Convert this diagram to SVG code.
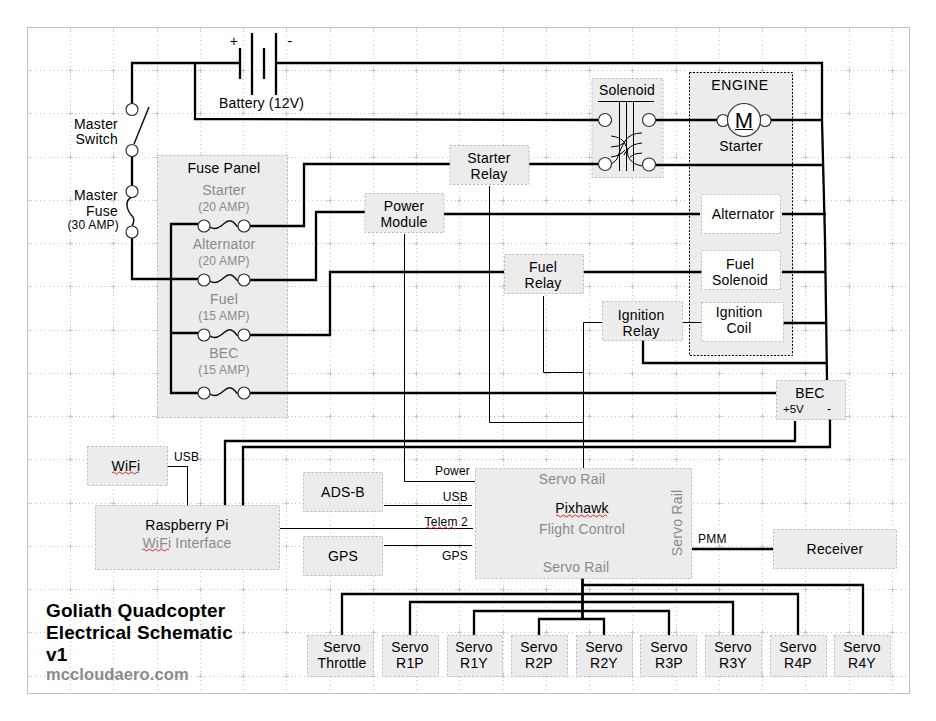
<svg xmlns="http://www.w3.org/2000/svg" width="936" height="721" viewBox="0 0 936 721">
<style>
text{font-family:"Liberation Sans",Arial,sans-serif;font-size:14px;fill:#000;text-anchor:middle;letter-spacing:.2px}
.g{fill:#8a8a8a}
.s{font-size:12px}
.e{text-anchor:end}
.l{text-anchor:start}
.t{font-size:19px;font-weight:bold;text-anchor:start;letter-spacing:.1px}
.box{fill:#ececec;stroke:#b8b8b8;stroke-width:1;stroke-dasharray:2 2}
.wbox{fill:#fff;stroke:#b8b8b8;stroke-width:1;stroke-dasharray:2 2}
.w{fill:none;stroke:#000;stroke-width:2.300;stroke-linejoin:miter}
.h{fill:none;stroke:#000;stroke-width:2.800}
.n{fill:none;stroke:#000;stroke-width:1}
.c{fill:#fff;stroke:#333;stroke-width:1.200}
.sq{fill:none;stroke:#d81010;stroke-width:.9}
.gd{fill:none;stroke:#c8c8c8;stroke-width:1;stroke-dasharray:1 3.325;shape-rendering:crispEdges}
.gt{fill:none;stroke:#c8c8c8;stroke-width:1;stroke-dasharray:5 38.25;stroke-dashoffset:2.500;shape-rendering:crispEdges}
</style>
<defs>
<g id="fuse"><path d="M6 1C10 4 13 3 17 0S23-6 27-5 31-1 34 1" fill="none" stroke="#111" stroke-width="1.500"/><circle class="c" cx="0" cy="0" r="6"/><circle class="c" cx="40" cy="0" r="6"/></g>
</defs>
<rect width="936" height="721" fill="#fff"/>
<g id="grid">
<path id="gv" class="gd" d="M70.500 27V693M113.500 27V693M157.500 27V693M200.500 27V693M243.500 27V693M286.500 27V693M330.500 27V693M373.500 27V693M416.500 27V693M459.500 27V693M503.500 27V693M546.500 27V693M589.500 27V693M632.500 27V693M676.500 27V693M719.500 27V693M762.500 27V693M805.500 27V693M849.500 27V693M892.500 27V693"/>
<path id="gh" class="gd" d="M27 70.500H909M27 113.500H909M27 157.500H909M27 200.500H909M27 243.500H909M27 286.500H909M27 330.500H909M27 373.500H909M27 416.500H909M27 459.500H909M27 503.500H909M27 546.500H909M27 589.500H909M27 632.500H909M27 676.500H909"/>
<path class="gt" d="M70.500 27V693M113.500 27V693M157.500 27V693M200.500 27V693M243.500 27V693M286.500 27V693M330.500 27V693M373.500 27V693M416.500 27V693M459.500 27V693M503.500 27V693M546.500 27V693M589.500 27V693M632.500 27V693M676.500 27V693M719.500 27V693M762.500 27V693M805.500 27V693M849.500 27V693M892.500 27V693"/>
<path class="gt" d="M27 70.500H909M27 113.500H909M27 157.500H909M27 200.500H909M27 243.500H909M27 286.500H909M27 330.500H909M27 373.500H909M27 416.500H909M27 459.500H909M27 503.500H909M27 546.500H909M27 589.500H909M27 632.500H909M27 676.500H909"/>
<rect x="27.500" y="27.500" width="882" height="666" fill="none" stroke="#c0c0c0"/>
</g>
<g id="fuse-panel-bg"><rect class="box" x="157.500" y="155.500" width="130" height="262"/></g>
<g id="solenoid-bg"><rect class="box" x="592" y="78.500" width="71" height="99"/></g>
<g id="engine-bg"><rect x="689.500" y="72.500" width="103" height="283" fill="#ececec" stroke="#000" stroke-dasharray="2 1.500"/></g>
<g id="connectors">
<path class="w" d="M240 63H132V104"/>
<path class="w" d="M277 63H822V120L825 240L827 380"/>
<path class="w" d="M195 63V119L598 120"/>
<path class="w" d="M132 156V186M132 238V279H198"/>
<path class="w" d="M198 224H171V393H198M171 333H198"/>
<path class="w" d="M250 226H304V164H450"/>
<path class="w" d="M250 280H316V212H365"/>
<path class="w" d="M250 335H330V272H504"/>
<path class="w" d="M250 393H776"/>
<path class="w" d="M529 164H598"/>
<path class="w" d="M655 120H717M771 120H823"/>
<path class="w" d="M655 165H823"/>
<path class="w" d="M444 214H700M782 214H826"/>
<path class="w" d="M583 272H703M782 272H826"/>
<path class="w" d="M782 323H826"/>
<path class="w" d="M643 340V363H826"/>
<path class="w" d="M795 421V441H225V507"/>
<path class="w" d="M830 418V447H243V506"/>
<path class="n" d="M489.500 186V422.500H583.500"/>
<path class="n" d="M543.500 296V372.500H583.500"/>
<path class="n" d="M603 322.500H583.500V468"/>
<path class="n" d="M682 322.500H702"/>
<path class="n" d="M404.500 234V481.500H475"/>
<path class="n" d="M167 466.500H187.500V506"/>
<path class="n" d="M384 505.500H472"/>
<path class="n" d="M280 528.500H473"/>
<path class="n" d="M384 545.500H472"/>
<path class="w" d="M692 549H773"/>
<path class="h" d="M582.500 578V619"/>
<path class="w" d="M582 585H863V635"/>
<path class="w" d="M342 635V594H798V635"/>
<path class="w" d="M410 635V602H733V635"/>
<path class="w" d="M474 635V611H669V635"/>
<path class="w" d="M539 635V619H604V635"/>
</g>
<g id="battery">
<path class="w" d="M240 48V79M252 33V95M264 48V79M276 33V95"/>
<text x="234" y="46">+</text><text x="290" y="46">-</text>
<text x="261.500" y="108">Battery (12V)</text>
</g>
<g id="master-switch">
<circle class="c" cx="132" cy="109.500" r="6"/><circle class="c" cx="132" cy="150.500" r="6"/>
<path d="M134 144L149 107" stroke="#111" stroke-width="1.500" fill="none"/>
<text x="118" y="129" class="e">Master</text><text x="118" y="144" class="e">Switch</text>
</g>
<g id="master-fuse">
<path d="M132 197q-6 3-5 9t6 11q2 4-1 9" fill="none" stroke="#111" stroke-width="1.500"/>
<circle class="c" cx="132" cy="191.500" r="6"/><circle class="c" cx="132" cy="232" r="6"/>
<text x="118" y="200" class="e">Master</text><text x="118" y="216" class="e">Fuse</text><text x="119" y="229" class="s e">(30 AMP)</text>
</g>
<g id="fuse-panel">
<text x="224" y="173">Fuse Panel</text>
<text x="224" y="195" class="g">Starter</text><text x="224" y="211" class="g s">(20 AMP)</text>
<use href="#fuse" x="204" y="226"/>
<text x="224" y="249" class="g">Alternator</text><text x="224" y="265" class="g s">(20 AMP)</text>
<use href="#fuse" x="204" y="280"/>
<text x="224" y="304" class="g">Fuel</text><text x="224" y="320" class="g s">(15 AMP)</text>
<use href="#fuse" x="204" y="335"/>
<text x="224" y="358" class="g">BEC</text><text x="224" y="374" class="g s">(15 AMP)</text>
<use href="#fuse" x="204" y="393"/>
</g>
<g id="solenoid">
<text x="627" y="95">Solenoid</text>
<path class="n" d="M598 101.500H654M619.500 101.500V171M626.500 101.500V171M633.500 101.500V171"/>
<path class="n" d="M611 136q9 1 13 6t4 14q3 8 14 10M611 147q8 0 13-4M611 157q9-1 14-7M642 133q-12 0-17 8t-8 18q-2 3-6 5M642 143q-10 1-14 6t-4 6M642 153q-8 0-12 4"/>
<circle class="c" cx="605" cy="120" r="6.500"/><circle class="c" cx="649" cy="120" r="6.500"/><circle class="c" cx="605" cy="164" r="6.500"/><circle class="c" cx="649" cy="164.500" r="6.500"/>
</g>
<g id="engine">
<text x="740" y="90" style="letter-spacing:.6px">ENGINE</text>
<circle class="c" cx="723" cy="120.500" r="6"/><circle class="c" cx="765" cy="120.500" r="6"/>
<circle class="c" cx="744" cy="120" r="16.500"/>
<text x="744" y="127.500" style="font-size:22px;letter-spacing:0">M</text>
<path class="n" d="M735 129.500H753"/>
<text x="741" y="151">Starter</text>
</g>
<g id="starter-relay"><rect class="box" x="450" y="145.500" width="79" height="39"/><text x="489" y="163">Starter</text><text x="489" y="179">Relay</text></g>
<g id="power-module"><rect class="box" x="365" y="193.500" width="79" height="39"/><text x="404" y="211">Power</text><text x="404" y="227">Module</text></g>
<g id="alternator"><rect class="wbox" x="701.500" y="194.500" width="79" height="39"/><text x="743" y="219">Alternator</text></g>
<g id="fuel-solenoid"><rect class="wbox" x="701.500" y="250.500" width="79" height="39"/><text x="740" y="269">Fuel</text><text x="740" y="285">Solenoid</text></g>
<g id="ignition-coil"><rect class="wbox" x="701.500" y="302.500" width="82" height="39"/><text x="739" y="317">Ignition</text><text x="739" y="333">Coil</text></g>
<g id="fuel-relay"><rect class="box" x="504.500" y="254.500" width="79" height="39"/><text x="543" y="272">Fuel</text><text x="543" y="288">Relay</text></g>
<g id="ignition-relay"><rect class="box" x="602.500" y="301.500" width="80" height="39"/><text x="641" y="320">Ignition</text><text x="641" y="336">Relay</text></g>
<g id="bec"><rect class="box" x="776.500" y="380.500" width="69" height="39"/><text x="810" y="398">BEC</text><text x="783" y="413" class="s l" style="font-size:11.500px;letter-spacing:0">+5V</text><text x="829" y="413" class="s">-</text></g>
<g id="wifi"><rect class="box" x="87.500" y="446.500" width="80" height="39"/><text x="126" y="471">WiFi</text><path class="sq" d="M112 473q1.500-2 3 0t3 0t3 0t3 0t3 0t3 0t3 0t3 0t3 0"/><text x="174" y="461" class="s l">USB</text></g>
<g id="raspberry-pi"><rect class="box" x="95.500" y="505.500" width="184" height="64"/><text x="187" y="530">Raspberry Pi</text><text x="187" y="548" class="g">WiFi Interface</text><path class="sq" d="M142 550q1.500-2 3 0t3 0t3 0t3 0t3 0t3 0t3 0t3 0t3 0"/></g>
<g id="ads-b"><rect class="box" x="303.500" y="472.500" width="79" height="39"/><text x="343" y="497">ADS-B</text></g>
<g id="gps"><rect class="box" x="303.500" y="536.500" width="79" height="39"/><text x="343" y="561">GPS</text></g>
<g id="wire-labels">
<text x="470" y="475" class="s e">Power</text><text x="468" y="501" class="s e">USB</text><text x="468" y="526" class="s e">Telem 2</text><path class="sq" d="M426 528q1.500-2 3 0t3 0t3 0t3 0t3 0t3 0t3 0t3 0t3 0t3 0"/><text x="468" y="560" class="s e">GPS</text><text x="698" y="543" class="s l">PMM</text>
</g>
<g id="pixhawk"><rect class="box" x="475.500" y="468.500" width="216" height="110"/>
<text x="572" y="484" class="g">Servo Rail</text><text x="582" y="513">Pixhawk</text><path class="sq" d="M556 516q1.500-2 3 0t3 0t3 0t3 0t3 0t3 0t3 0t3 0t3 0t3 0t3 0t3 0t3 0t3 0t3 0t3 0t3 0"/><text x="582" y="534" class="g">Flight Control</text><text x="576" y="572" class="g">Servo Rail</text>
<text class="g" transform="translate(682 523) rotate(-90)">Servo Rail</text></g>
<g id="receiver"><rect class="box" x="773.500" y="529.500" width="123" height="39"/><text x="835" y="554">Receiver</text></g>
<g id="servo-throttle"><rect class="box" x="307.500" y="635.500" width="66" height="41"/><text x="342" y="652">Servo</text><text x="342" y="668">Throttle</text></g>
<g id="servo-r1p"><rect class="box" x="382.500" y="635.500" width="56" height="41"/><text x="410" y="652">Servo</text><text x="410" y="668">R1P</text></g>
<g id="servo-r1y"><rect class="box" x="447.500" y="635.500" width="55" height="41"/><text x="474" y="652">Servo</text><text x="474" y="668">R1Y</text></g>
<g id="servo-r2p"><rect class="box" x="511.500" y="635.500" width="56" height="41"/><text x="539" y="652">Servo</text><text x="539" y="668">R2P</text></g>
<g id="servo-r2y"><rect class="box" x="576.500" y="635.500" width="56" height="41"/><text x="604" y="652">Servo</text><text x="604" y="668">R2Y</text></g>
<g id="servo-r3p"><rect class="box" x="640.500" y="635.500" width="56" height="41"/><text x="669" y="652">Servo</text><text x="669" y="668">R3P</text></g>
<g id="servo-r3y"><rect class="box" x="705.500" y="635.500" width="56" height="41"/><text x="733" y="652">Servo</text><text x="733" y="668">R3Y</text></g>
<g id="servo-r4p"><rect class="box" x="770.500" y="635.500" width="56" height="41"/><text x="798" y="652">Servo</text><text x="798" y="668">R4P</text></g>
<g id="servo-r4y"><rect class="box" x="834.500" y="635.500" width="56" height="41"/><text x="862" y="652">Servo</text><text x="862" y="668">R4Y</text></g>
<g id="title">
<text x="46" y="617" class="t">Goliath Quadcopter</text><text x="46" y="639" class="t">Electrical Schematic</text><text x="46" y="661" class="t">v1</text>
<text x="46" y="680" class="t g" style="font-size:16.500px">mccloudaero.com</text>
</g>
</svg>
